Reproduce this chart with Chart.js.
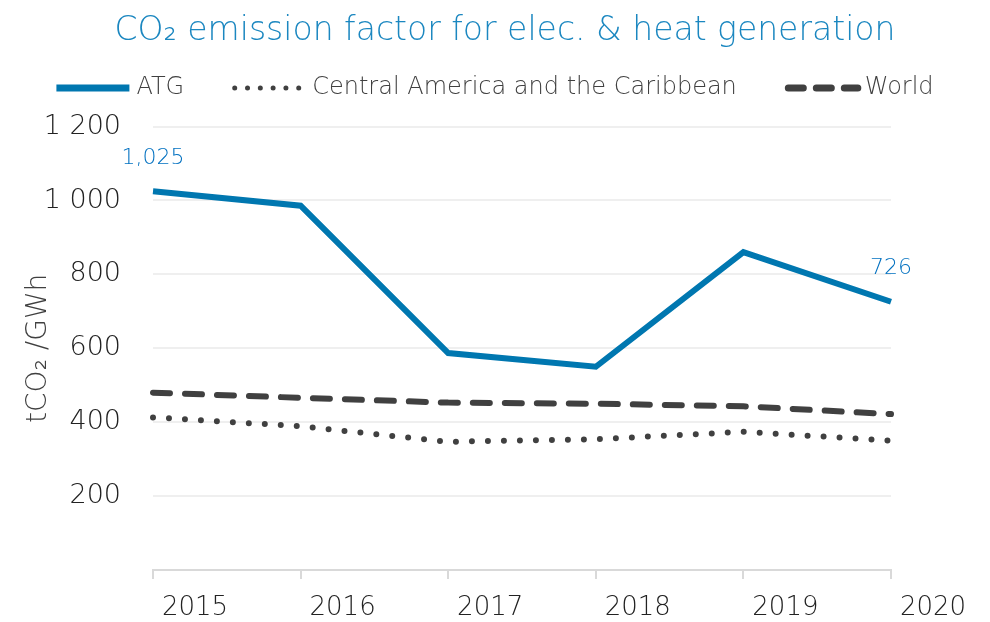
<!DOCTYPE html>
<html>
<head>
<meta charset="utf-8">
<script src="https://cdn.jsdelivr.net/npm/chart.js@4"></script>
<style>
  body { margin: 0; background: #fff; }
  #wrap { width: 990px; height: 622px; position: relative; }
</style>
</head>
<body>
<div id="wrap"><canvas id="myChart"></canvas></div>
<script>
// years on the x axis
const years = ['2015', '2016', '2017', '2018', '2019', '2020'];

// tCO2 / GWh
const atg = [1025, 986, 587, 550, 860, 726];
const centralAmerica = [413, 389, 347, 354, 374, 350];
const world = [480, 466, 453, 450, 443, 422];

const seriesNames = ['ATG', 'Central America and the Caribbean', 'World'];

// y ticks shown on the left
const yTicks = [0, 200, 400, 600, 800, 1000, 1200];

const FONT = "'DejaVu Sans', 'Open Sans', sans-serif";

const ctx = document.getElementById('myChart').getContext('2d');

// writes 1,025 and 726 above the first and last ATG points
const endLabels = {
  id: 'endLabels',
  afterDatasetsDraw(chart) {
    const meta = chart.getDatasetMeta(0);
    const c = chart.ctx;
    c.save();
    c.fillStyle = '#0070c0';
    c.font = '200 22px ' + FONT;
    c.textAlign = 'center';
    c.textBaseline = 'middle';
    [0, atg.length - 1].forEach(i => {
      const p = meta.data[i];
      c.fillText(atg[i].toLocaleString('en-US'), p.x, p.y - 33);
    });
    c.restore();
  }
};

// legend row under the title (the built-in one can't show dashes with line samples)
const lineLegend = {
  id: 'lineLegend',
  afterDraw(chart) {
    const c = chart.ctx;
    const sampleW = 73, gapText = 7, gapItem = 48, y = 88;
    c.save();
    c.font = '200 24px ' + FONT;
    c.textBaseline = 'middle';
    const ds = chart.data.datasets;
    const widths = ds.map(d => sampleW + gapText + c.measureText(d.label).width);
    const total = widths.reduce((a, b) => a + b, 0) + gapItem * (ds.length - 1);
    let x = (chart.width - total) / 2;
    ds.forEach((d, i) => {
      c.beginPath();
      c.strokeStyle = d.borderColor;
      c.lineWidth = d.legendWidth;
      c.lineCap = d.borderCapStyle || 'butt';
      c.setLineDash(d.legendDash || []);
      c.moveTo(x + (d.borderCapStyle === 'round' ? d.legendWidth / 2 : 0), y);
      c.lineTo(x + sampleW, y);
      c.stroke();
      c.setLineDash([]);
      c.fillStyle = '#404040';
      c.fillText(d.label, x + sampleW + gapText, y);
      x += widths[i] + gapItem;
    });
    c.restore();
  }
};

const chart = new Chart(ctx, {
  type: 'line',
  data: {
    labels: years,
    datasets: [
      {
        label: seriesNames[0],
        data: atg,
        borderColor: '#0077b0',
        borderWidth: 6,
        legendWidth: 7,
        pointRadius: 0,
        tension: 0
      },
      {
        label: seriesNames[1],
        data: centralAmerica,
        borderColor: '#404040',
        borderWidth: 6,
        borderDash: [0, 16],
        legendWidth: 5,
        legendDash: [0, 12.8],
        borderCapStyle: 'round',
        pointRadius: 0,
        tension: 0
      },
      {
        label: seriesNames[2],
        data: world,
        borderColor: '#404040',
        borderWidth: 6,
        borderDash: [17, 15],
        legendWidth: 7,
        legendDash: [15, 13],
        borderCapStyle: 'round',
        pointRadius: 0,
        tension: 0
      }
    ]
  },
  options: {
    responsive: true,
    maintainAspectRatio: false,
    animation: false,
    layout: { padding: { left: 20, right: 0, top: 0, bottom: 0 } },
    plugins: {
      title: {
        display: true,
        text: 'CO\u2082 emission factor for elec. & heat generation',
        color: '#1b87c0',
        font: { family: FONT, size: 33, weight: '200' },
        padding: { top: 12, bottom: 75 }
      },
      legend: { display: false },
      tooltip: { enabled: false }
    },
    scales: {
      x: {
        offset: false,
        afterFit(scale) { scale.height = 52; },
        grid: {
          drawOnChartArea: false,
          drawTicks: true,
          tickLength: 9,
          color: '#d9d9d9',
          lineWidth: 2
        },
        border: { color: '#d9d9d9', width: 2 },
        ticks: {
          color: '#222',
          font: { family: FONT, size: 26, weight: '200' },
          labelOffset: 42,
          padding: 14,
          maxRotation: 0
        }
      },
      y: {
        min: 0,
        max: 1200,
        afterBuildTicks(scale) {
          scale.ticks = yTicks.map(v => ({ value: v }));
        },
        afterFit(scale) { scale.width = 133; },
        grid: {
          drawTicks: false,
          lineWidth: 2,
          color: c => (c.tick && c.tick.value === 0 ? 'rgba(0,0,0,0)' : '#efefef')
        },
        border: { display: false },
        ticks: {
          color: '#222',
          padding: 32,
          font: { family: FONT, size: 27, weight: '200' },
          callback: v => (v === 0 ? '' : String(v).replace(/\B(?=(\d{3})+(?!\d))/g, ' '))
        },
        title: {
          display: true,
          text: 'tCO\u2082 /GWh',
          color: '#404040',
          font: { family: FONT, size: 28, weight: '200' },
          padding: { top: 2, bottom: 0 }
        }
      },
      // empty strip on the right so the plot stops at the 2020 tick
      yRight: {
        position: 'right',
        min: 0,
        max: 1200,
        afterFit(scale) { scale.width = 99; },
        grid: { display: false },
        border: { display: false },
        ticks: { display: false }
      }
    }
  },
  plugins: [endLabels, lineLegend]
});
</script>
</body>
</html>
